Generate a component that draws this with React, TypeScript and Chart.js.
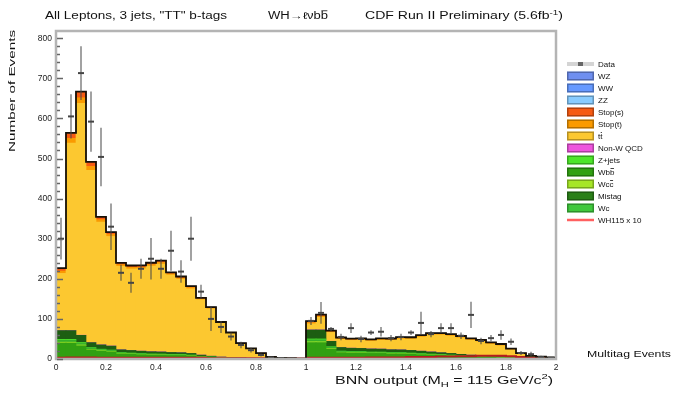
import React, { useEffect, useRef } from "react";
import { Chart, registerables } from "chart.js";
Chart.register(...registerables);

// ---------- axis / binning ----------
const X_MIN = 0;
const X_MAX = 2;
const BIN_WIDTH = 0.04;
const Y_MAX = 818;
const xTickValues = [0, 0.2, 0.4, 0.6, 0.8, 1, 1.2, 1.4, 1.6, 1.8, 2];
const yTickValues = [0, 100, 200, 300, 400, 500, 600, 700, 800];

// ---------- observed data (50 bins of 0.04 from 0 to 2) ----------
const dataCounts = [
  300, 605, 713, 592, 504, 330, 215, 190, 225, 250, 225, 270, 218, 300, 168, 100, 80, 56, 35, 22, 10, 4, 2, 1, 0,
  95, 115, 75, 55, 77, 50, 66, 68, 52, 55, 66, 90, 62, 77, 77, 58, 110, 45, 52, 60, 43, 15, 12, 5, 3,
];
const dataErrors = [
  52, 55, 67, 75, 73, 58, 20, 25, 25, 52, 25, 50, 28, 55, 17, 30, 15, 10, 8, 6, 4, 2, 2, 1, 0,
  10, 27, 5, 8, 12, 8, 6, 12, 8, 8, 6, 28, 8, 12, 12, 8, 33, 8, 8, 12, 8, 5, 6, 3, 2,
];

// ---------- background components (stacked bottom -> top) ----------
const wbb = [
  40, 40, 33, 23, 20, 18, 13, 12, 11, 10, 10, 9, 9, 8, 5.5, 4, 2.8, 2.2, 1.6, 1.1, 0.5, 0.3, 0.2, 0.1, 0.05,
  41, 41, 25, 16, 15, 15, 14, 14, 13, 13, 12, 11, 10, 9, 8, 6.5, 5.5, 5, 4.4, 3.3, 2.2, 1.1, 0.5, 0.3, 0.15,
];
const wcc = [
  2, 2, 2, 1.2, 1, 1, 0.7, 0.7, 0.6, 0.6, 0.5, 0.5, 0.5, 0.4, 0.3, 0.2, 0.15, 0.1, 0.1, 0.06, 0.03, 0, 0, 0, 0,
  2, 2, 1.3, 0.9, 0.8, 0.8, 0.8, 0.8, 0.7, 0.7, 0.7, 0.6, 0.5, 0.5, 0.4, 0.4, 0.3, 0.3, 0.2, 0.2, 0.1, 0.06, 0.03, 0, 0,
];
const wc = [
  5, 5, 4, 3, 2.5, 2.3, 1.7, 1.5, 1.4, 1.3, 1.3, 1.2, 1.1, 1, 0.7, 0.5, 0.35, 0.3, 0.2, 0.15, 0.07, 0.04, 0.02, 0, 0,
  5, 5, 3, 2, 2, 1.9, 1.8, 1.7, 1.7, 1.6, 1.5, 1.4, 1.3, 1.1, 1, 0.8, 0.7, 0.6, 0.6, 0.4, 0.3, 0.14, 0.07, 0.04, 0.02,
];
const zJets = [
  2, 2, 2, 1.2, 1, 1, 0.7, 0.7, 0.6, 0.6, 0.5, 0.5, 0.5, 0.4, 0.3, 0.2, 0.15, 0.1, 0.1, 0.06, 0.03, 0, 0, 0, 0,
  2, 2, 1.3, 0.9, 0.8, 0.8, 0.8, 0.8, 0.7, 0.7, 0.7, 0.6, 0.5, 0.5, 0.4, 0.4, 0.3, 0.3, 0.2, 0.2, 0.1, 0.06, 0.03, 0, 0,
];
const mistag = [
  22, 22, 18, 12.6, 10.8, 10, 7, 6.5, 6, 5.8, 5.4, 5.2, 4.8, 4.2, 3, 2.1, 1.5, 1.2, 0.9, 0.6, 0.3, 0.15, 0.1, 0.1, 0.05,
  22.5, 22.5, 13.5, 9, 8.4, 8, 7.8, 7.5, 7.2, 6.9, 6.6, 6, 5.4, 4.8, 4.2, 3.6, 3, 2.7, 2.4, 1.8, 1.2, 0.6, 0.3, 0.15, 0.1,
];
const nonW = [
  0.4, 0.5, 0.5, 0.4, 0.3, 0.3, 0.2, 0.2, 0.2, 0.2, 0.2, 0.2, 0.2, 0.2, 0.1, 0.1, 0.1, 0.1, 0.05, 0.05, 0, 0, 0, 0, 0,
  0.3, 0.3, 0.2, 0.2, 0.2, 0.2, 0.2, 0.2, 0.2, 0.2, 0.2, 0.2, 0.2, 0.2, 0.2, 0.1, 0.1, 0.1, 0.1, 0.1, 0.05, 0, 0, 0, 0,
];
const ttbar = [
  142, 467, 578, 429, 306, 273, 208, 203, 205, 213, 219, 193, 183, 161, 138, 118, 84, 60, 35, 23.5, 13, 4.3, 2.5, 1.7, 0.8,
  15, 31, 22, 20, 19, 20, 19, 22, 23, 27, 28, 35, 42, 44, 43, 41, 37, 34, 29, 27, 19, 10.5, 5.7, 4.7, 3.2,
];
const stopT = [
  6, 12, 14, 10, 6, 5, 4, 4, 4, 4, 4, 3, 3, 3, 2, 2, 1.5, 1, 0.8, 0.5, 0.3, 0.1, 0.1, 0, 0,
  3, 3, 2, 2, 2, 2, 2, 2, 2, 2, 2, 2, 2, 2, 2, 2, 2, 2, 2, 2, 1.5, 1, 0.5, 0.3, 0.2,
];
const stopS = [
  6, 12, 14, 10, 6, 5, 4, 4, 4, 4, 4, 3, 3, 3, 2, 2, 1.5, 1, 0.8, 0.5, 0.3, 0.1, 0.1, 0, 0,
  3, 3, 2, 2, 2, 2, 2, 2, 2, 2, 2, 2, 2, 2, 2, 2, 2, 2, 2, 2, 1.5, 1, 0.5, 0.3, 0.2,
];
const zz = [
  0.2, 0.3, 0.3, 0.2, 0.2, 0.2, 0.1, 0.1, 0.1, 0.1, 0.1, 0.1, 0.1, 0.1, 0.1, 0.05, 0.05, 0, 0, 0, 0, 0, 0, 0, 0,
  0.2, 0.2, 0.1, 0.1, 0.1, 0.1, 0.1, 0.1, 0.1, 0.1, 0.1, 0.1, 0.1, 0.1, 0.1, 0.1, 0.1, 0.1, 0.05, 0.05, 0, 0, 0, 0, 0,
];
const ww = [
  0.6, 0.8, 0.8, 0.6, 0.5, 0.4, 0.3, 0.3, 0.3, 0.3, 0.3, 0.3, 0.3, 0.2, 0.2, 0.2, 0.1, 0.1, 0.1, 0.1, 0, 0, 0, 0, 0,
  0.4, 0.4, 0.3, 0.3, 0.3, 0.3, 0.3, 0.3, 0.3, 0.3, 0.3, 0.3, 0.3, 0.3, 0.3, 0.3, 0.3, 0.2, 0.2, 0.2, 0.1, 0.1, 0, 0, 0,
];
const wz = [
  0.3, 0.4, 0.4, 0.3, 0.3, 0.2, 0.2, 0.2, 0.2, 0.2, 0.2, 0.2, 0.2, 0.1, 0.1, 0.1, 0.1, 0.05, 0.05, 0, 0, 0, 0, 0, 0,
  0.3, 0.3, 0.2, 0.2, 0.2, 0.2, 0.2, 0.2, 0.2, 0.2, 0.2, 0.2, 0.2, 0.2, 0.2, 0.2, 0.2, 0.1, 0.1, 0.1, 0.05, 0, 0, 0, 0,
];

// ---------- signal (x10) ----------
const signalWH = [
  3, 4, 4, 4, 3, 3, 3, 3, 3, 3, 3, 3, 3, 3, 3, 2, 2, 2, 2, 2, 2, 1, 1, 1, 1,
  3, 3, 3, 3, 3, 3, 4, 4, 4, 4, 5, 5, 5, 6, 6, 7, 7, 8, 8, 8, 7, 5, 3, 2, 1,
];

const FONT = '"Liberation Sans", Arial, sans-serif';

type Comp = { key: string; data: number[]; color: string };
const stackComps: Comp[] = [
  { key: "Wbb", data: wbb, color: "#31a012" },
  { key: "Wcc", data: wcc, color: "#a6e627" },
  { key: "Wc", data: wc, color: "#36b02a" },
  { key: "Zjets", data: zJets, color: "#4de62a" },
  { key: "Mistag", data: mistag, color: "#1d5e12" },
  { key: "NonW", data: nonW, color: "#ee55dd" },
  { key: "tt", data: ttbar, color: "#fcc830" },
  { key: "StopT", data: stopT, color: "#fa9a00" },
  { key: "StopS", data: stopS, color: "#f65a12" },
  { key: "ZZ", data: zz, color: "#88ccff" },
  { key: "WW", data: ww, color: "#6699ff" },
  { key: "WZ", data: wz, color: "#6f8ff0" },
];

type Part = { t: string; mode?: "sub" | "sup"; over?: boolean };

function drawRich(
  ctx: CanvasRenderingContext2D,
  parts: Part[],
  x: number,
  y: number,
  size: number,
  targetWidth: number | null,
  align: "left" | "right" = "left"
) {
  const widths = parts.map((p) => {
    ctx.font = `${p.mode ? size * 0.7 : size}px ${FONT}`;
    return ctx.measureText(p.t).width;
  });
  const natural = widths.reduce((a, b) => a + b, 0);
  const sx = targetWidth ? targetWidth / natural : 1;
  const total = natural * sx;
  const startX = align === "right" ? x - total : x;
  ctx.save();
  ctx.translate(startX, y);
  ctx.scale(sx, 1);
  ctx.textAlign = "left";
  ctx.textBaseline = "alphabetic";
  let cx = 0;
  parts.forEach((p, i) => {
    const s = p.mode ? size * 0.7 : size;
    ctx.font = `${s}px ${FONT}`;
    const dy = p.mode === "sub" ? size * 0.3 : p.mode === "sup" ? -size * 0.45 : 0;
    ctx.fillText(p.t, cx, dy);
    if (p.over) ctx.fillRect(cx + 0.5, dy - s * 0.86, widths[i] - 1, Math.max(0.8, s * 0.08));
    cx += widths[i];
  });
  ctx.restore();
}

type LegendItem = { parts: Part[]; color: string; kind: "box" | "data" | "line" };
const legendItems: LegendItem[] = [
  { parts: [{ t: "Data" }], color: "#777", kind: "data" },
  { parts: [{ t: "WZ" }], color: "#6f8ff0", kind: "box" },
  { parts: [{ t: "WW" }], color: "#6699ff", kind: "box" },
  { parts: [{ t: "ZZ" }], color: "#88ccff", kind: "box" },
  { parts: [{ t: "Stop(s)" }], color: "#f65a12", kind: "box" },
  { parts: [{ t: "Stop(t)" }], color: "#fa9a00", kind: "box" },
  { parts: [{ t: "t" }, { t: "t", over: true }], color: "#fcc830", kind: "box" },
  { parts: [{ t: "Non-W QCD" }], color: "#ee55dd", kind: "box" },
  { parts: [{ t: "Z+jets" }], color: "#4de62a", kind: "box" },
  { parts: [{ t: "Wb" }, { t: "b", over: true }], color: "#31a012", kind: "box" },
  { parts: [{ t: "Wc" }, { t: "c", over: true }], color: "#a6e627", kind: "box" },
  { parts: [{ t: "Mistag" }], color: "#2a8018", kind: "box" },
  { parts: [{ t: "Wc" }], color: "#3fc83c", kind: "box" },
  { parts: [{ t: "WH115 x 10" }], color: "#ff6060", kind: "line" },
];

const decorPlugin = {
  id: "cdfDecor",
  afterDatasetsDraw(chart: any) {
    const { ctx, chartArea: ca, scales } = chart;
    const xs = scales.x;
    const ys = scales.y;
    ctx.save();
    // error bars of data
    ctx.lineWidth = 2;
    ctx.strokeStyle = "rgba(70,70,70,0.5)";
    dataCounts.forEach((v, i) => {
      if (!v) return;
      const xc = xs.getPixelForValue(X_MIN + (i + 0.5) * BIN_WIDTH);
      const y1 = ys.getPixelForValue(v + dataErrors[i]);
      const y0 = ys.getPixelForValue(Math.max(0, v - dataErrors[i]));
      ctx.beginPath();
      ctx.moveTo(xc, y0);
      ctx.lineTo(xc, y1);
      ctx.stroke();
    });
    // frame
    ctx.strokeStyle = "#b4b4b4";
    ctx.lineWidth = 2.5;
    ctx.strokeRect(ca.left, ca.top, ca.right - ca.left, ca.bottom - ca.top);
    // y ticks (inside)
    ctx.strokeStyle = "#666";
    ctx.lineWidth = 1.5;
    for (let v = 0; v <= Y_MAX; v += 20) {
      const y = Math.round(ys.getPixelForValue(v)) + 0.5;
      const len = v % 100 === 0 ? 6 : 3;
      ctx.beginPath();
      ctx.moveTo(ca.left + 1, y);
      ctx.lineTo(ca.left + 1 + len, y);
      ctx.stroke();
    }
    ctx.restore();
  },
  afterDraw(chart: any) {
    const { ctx } = chart;
    ctx.save();
    ctx.fillStyle = "#111";
    // top titles
    drawRich(ctx, [{ t: 'All Leptons, 3 jets, "TT" b-tags' }], 45, 19, 10, 182);
    drawRich(ctx, [{ t: "WH\u2192\u2113\u03bdb" }, { t: "b", over: true }], 268, 19, 10, 60);
    drawRich(ctx, [{ t: "CDF Run II Preliminary (5.6fb" }, { t: "-1", mode: "sup" }, { t: ")" }], 365, 19, 10, 198);
    // x title
    drawRich(
      ctx,
      [{ t: "BNN output (M" }, { t: "H", mode: "sub" }, { t: " = 115 GeV/c" }, { t: "2", mode: "sup" }, { t: ")" }],
      553,
      384,
      11,
      218,
      "right"
    );
    // y title
    ctx.save();
    ctx.translate(15, 152);
    ctx.rotate(-Math.PI / 2);
    drawRich(ctx, [{ t: "Number of Events" }], 0, 0, 9.5, 122);
    ctx.restore();
    // bottom-right note
    drawRich(ctx, [{ t: "Multitag Events" }], 587, 357, 9, 84);
    // legend
    legendItems.forEach((it, i) => {
      const cy = 64 + i * 12;
      const bx = 567;
      const bw = 27;
      if (it.kind === "box") {
        ctx.fillStyle = it.color;
        ctx.fillRect(bx, cy - 4.5, bw, 9);
        ctx.strokeStyle = "rgba(0,0,0,0.28)";
        ctx.lineWidth = 1.5;
        ctx.strokeRect(bx + 0.75, cy - 3.75, bw - 1.5, 7.5);
      } else if (it.kind === "data") {
        ctx.fillStyle = "#d4d4d4";
        ctx.fillRect(bx, cy - 2, bw, 4);
        ctx.fillStyle = "#666";
        ctx.fillRect(bx + 11, cy - 2, 5, 4);
      } else {
        ctx.strokeStyle = it.color;
        ctx.lineWidth = 2.5;
        ctx.beginPath();
        ctx.moveTo(bx, cy);
        ctx.lineTo(bx + bw, cy);
        ctx.stroke();
      }
      ctx.fillStyle = "#111";
      drawRich(ctx, it.parts, 598, cy + 3, 8, null);
    });
    ctx.restore();
  },
};

export default function App() {
  const canvasRef = useRef<HTMLCanvasElement | null>(null);

  useEffect(() => {
    if (!canvasRef.current) return;
    const n = dataCounts.length;
    const centers = Array.from({ length: n }, (_, i) => X_MIN + (i + 0.5) * BIN_WIDTH);
    const edges = Array.from({ length: n + 1 }, (_, i) => X_MIN + i * BIN_WIDTH);
    const totals = centers.map((_, i) => stackComps.reduce((s, c) => s + c.data[i], 0));
    const stepPoints = (vals: number[]) => [
      ...vals.map((v, i) => ({ x: edges[i], y: v })),
      { x: edges[n], y: vals[n - 1] },
    ];

    const datasets: any[] = [
      {
        type: "line",
        label: "Data",
        data: dataCounts.map((v, i) => ({ x: centers[i], y: v ? v : null })),
        showLine: false,
        pointStyle: "line",
        pointRadius: 3,
        pointBorderWidth: 2,
        pointBorderColor: "#444",
        pointBackgroundColor: "#444",
        stack: "data",
      },
      {
        type: "line",
        label: "total",
        data: stepPoints(totals),
        stepped: "before",
        borderColor: "#161008",
        borderWidth: 1.8,
        pointRadius: 0,
        fill: false,
        stack: "outline",
      },
      {
        type: "line",
        label: "WH115 x 10",
        data: stepPoints(signalWH),
        stepped: "before",
        borderColor: "#b41e1e",
        borderWidth: 2,
        pointRadius: 0,
        fill: false,
        stack: "signal",
      },
      ...stackComps.map((c) => ({
        type: "bar",
        label: c.key,
        data: c.data.map((v, i) => ({ x: centers[i], y: v })),
        backgroundColor: c.color,
        borderWidth: 0,
        barPercentage: 1,
        categoryPercentage: 1,
        stack: "bkg",
      })),
    ];

    const chart = new Chart(canvasRef.current, {
      type: "bar",
      data: { datasets },
      plugins: [decorPlugin],
      options: {
        animation: false,
        responsive: true,
        maintainAspectRatio: false,
        devicePixelRatio: 1,
        layout: { padding: { left: 0, right: 119, top: 31, bottom: 0 } },
        plugins: { legend: { display: false }, tooltip: { enabled: false }, title: { display: false } },
        scales: {
          x: {
            type: "linear",
            min: X_MIN,
            max: X_MAX,
            offset: false,
            stacked: true,
            grid: { display: false, drawTicks: false },
            border: { display: false },
            afterBuildTicks: (scale: any) => {
              scale.ticks = xTickValues.map((v) => ({ value: v }));
            },
            afterFit: (scale: any) => {
              scale.height = 34;
            },
            ticks: {
              padding: 4,
              maxRotation: 0,
              autoSkip: false,
              font: { family: FONT, size: 8.5 },
              color: "#222",
              callback: (v: any) => `${Math.round(Number(v) * 10) / 10}`,
            },
          },
          y: {
            type: "linear",
            min: 0,
            max: Y_MAX,
            stacked: true,
            grid: { display: false, drawTicks: false },
            border: { display: false },
            afterBuildTicks: (scale: any) => {
              scale.ticks = yTickValues.map((v) => ({ value: v }));
            },
            afterFit: (scale: any) => {
              scale.width = 56;
            },
            ticks: {
              padding: 4,
              autoSkip: false,
              font: { family: FONT, size: 8.5 },
              color: "#222",
              callback: (v: any) => `${v}`,
            },
          },
        },
      } as any,
    });
    return () => chart.destroy();
  }, []);

  return (
    <div style={{ position: "absolute", left: 0, top: 0, width: 675, height: 393, background: "#fff" }}>
      <canvas ref={canvasRef} />
    </div>
  );
}
